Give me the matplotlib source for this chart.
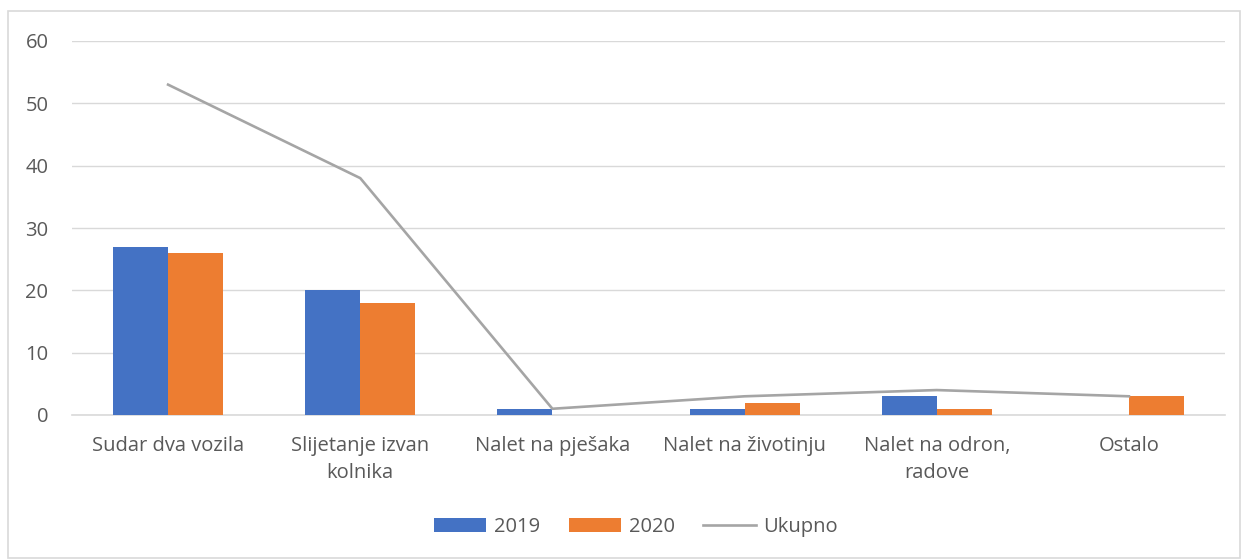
import matplotlib.pyplot as plt
import numpy as np
from matplotlib.patches import Rectangle

categories = ["Sudar dva vozila", "Slijetanje izvan\nkolnika", "Nalet na pješaka",
              "Nalet na životinju", "Nalet na odron,\nradove", "Ostalo"]
values_2019 = [27, 20, 1, 1, 3, 0]
values_2020 = [26, 18, 0, 2, 1, 3]
values_total = [53, 38, 1, 3, 4, 3]
y_ticks = [0, 10, 20, 30, 40, 50, 60]

plt.rcParams["font.family"] = ["Open Sans", "DejaVu Sans"]
text_color = "#595959"

fig = plt.figure(figsize=(12.44, 5.6), dpi=100)
ax = fig.add_axes([72 / 1244, 1 - 415 / 560, 1153 / 1244, 374 / 560])

x = np.arange(len(categories))
w = 0.286
b1 = ax.bar(x - w / 2, values_2019, w, color="#4472C4", label="2019", zorder=3)
b2 = ax.bar(x + w / 2, values_2020, w, color="#ED7D31", label="2020", zorder=3)
ln, = ax.plot(x, values_total, color="#A5A5A5", linewidth=1.9, label="Ukupno", zorder=4)

ax.set_xlim(-0.5, len(categories) - 0.5)
ax.set_ylim(0, 60)
ax.set_yticks(y_ticks)
ax.set_xticks(x)
ax.set_xticklabels(categories, linespacing=1.45)
ax.tick_params(axis="both", length=0, labelsize=14.5, labelcolor=text_color)
ax.tick_params(axis="y", pad=17)
ax.tick_params(axis="x", pad=15)
ax.grid(axis="y", color="#D9D9D9", linewidth=1)
ax.set_axisbelow(True)
for s in ["top", "right", "left"]:
    ax.spines[s].set_visible(False)
ax.spines["bottom"].set_color("#D9D9D9")
ax.spines["bottom"].set_linewidth(1.2)

leg = fig.legend([b1, b2, ln], ["2019", "2020", "Ukupno"], loc="center",
                 bbox_to_anchor=(636 / 1244, 1 - 527 / 560), ncol=3,
                 frameon=False, fontsize=14.5, handlelength=2.6, handleheight=0.7,
                 columnspacing=1.4, handletextpad=0.4)
for t in leg.get_texts():
    t.set_color(text_color)

fig.patches.append(Rectangle((8 / 1244, 0.003), 1 - 12 / 1244, 1 - 11 / 560 - 0.003,
                             transform=fig.transFigure, fill=False,
                             edgecolor="#D9D9D9", linewidth=1.2))

fig.savefig("out.png", dpi=100, facecolor="white")
